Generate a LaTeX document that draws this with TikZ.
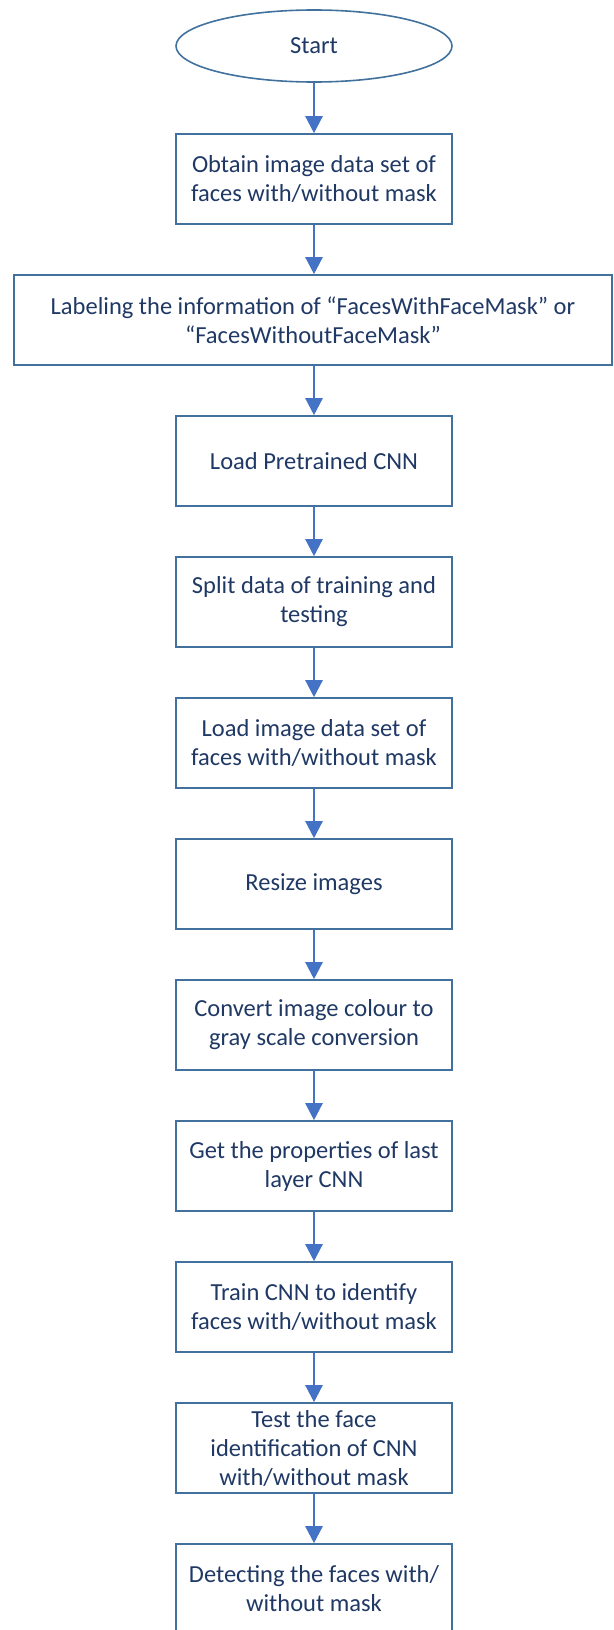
\documentclass[tikz,border=0pt]{standalone}
\usepackage{fontspec}
\setmainfont{Carlito}
\usetikzlibrary{shapes.geometric,arrows.meta}
\definecolor{edgeblue}{HTML}{41719C}
\definecolor{arrowblue}{HTML}{4472C4}
\definecolor{txtnavy}{HTML}{1F3864}
\begin{document}
\begin{tikzpicture}[x=1pt,y=-1pt,
  every node/.style={text=txtnavy,font=\fontsize{24.5}{29}\selectfont,align=center,inner sep=0pt},
  stepbox/.style={draw=edgeblue,line width=1.6pt,minimum width=276pt,minimum height=90pt},
  widebox/.style={draw=edgeblue,line width=1.6pt,minimum width=598pt,minimum height=90pt},
  startnode/.style={ellipse,draw=edgeblue,line width=1.6pt,minimum width=276pt,minimum height=72pt},
  flow/.style={draw=arrowblue,line width=2.4pt,-{Triangle[length=17pt,width=17pt]}}
]
\useasboundingbox (0,0) rectangle (613,1630);
\node[startnode] (s) at (314,46) {Start};
\node[stepbox] (b1) at (314,179) {Obtain image data set of\\faces with/without mask};
\node[widebox] (b2) at (313,320) {Labeling the information of “FacesWithFaceMask” or\\“FacesWithoutFaceMask”};
\node[stepbox] (b3) at (314,461) {Load Pretrained CNN};
\node[stepbox] (b4) at (314,602) {Split data of training and\\testing};
\node[stepbox] (b5) at (314,743) {Load image data set of\\faces with/without mask};
\node[stepbox] (b6) at (314,884) {Resize images};
\node[stepbox] (b7) at (314,1025) {Convert image colour to\\gray scale conversion};
\node[stepbox] (b8) at (314,1166) {Get the properties of last\\layer CNN};
\node[stepbox] (b9) at (314,1307) {Train CNN to identify\\faces with/without mask};
\node[stepbox] (b10) at (314,1448) {Test the face\\identification of CNN\\with/without mask};
\node[stepbox] (b11) at (314,1589) {Detecting the faces with/\\without mask};
\draw[flow] (s.south) -- (b1.north);
\draw[flow] (b1.south) -- (b2.north -| b1.south);
\draw[flow] (b2.south -| b3.north) -- (b3.north);
\draw[flow] (b3.south) -- (b4.north);
\draw[flow] (b4.south) -- (b5.north);
\draw[flow] (b5.south) -- (b6.north);
\draw[flow] (b6.south) -- (b7.north);
\draw[flow] (b7.south) -- (b8.north);
\draw[flow] (b8.south) -- (b9.north);
\draw[flow] (b9.south) -- (b10.north);
\draw[flow] (b10.south) -- (b11.north);
\end{tikzpicture}
\end{document}
